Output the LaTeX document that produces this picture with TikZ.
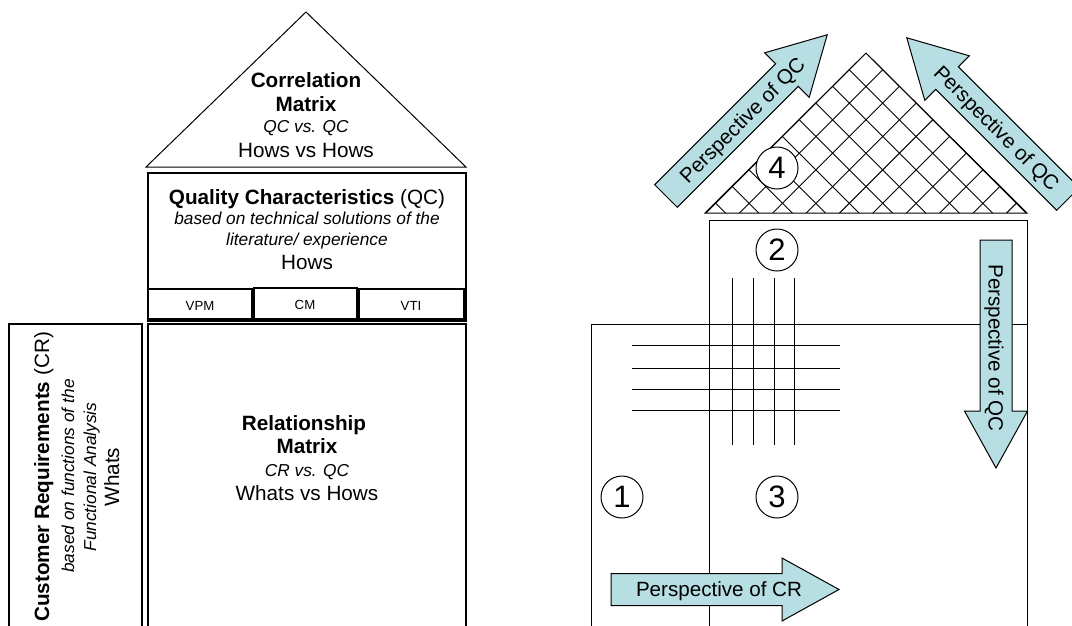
\documentclass[tikz,border=0pt]{standalone}
\usepackage{fontspec}
\setmainfont{Liberation Sans}
\definecolor{arrowfill}{RGB}{183,222,227}
\tikzset{
  box/.style={draw, line width=1.2pt},
  thinbox/.style={draw, line width=1pt},
  lbl/.style={anchor=base, inner sep=0pt},
  big/.style={font=\fontsize{20.7}{24}\selectfont},
  bigb/.style={font=\fontsize{20.7}{24}\selectfont\bfseries},
  ital/.style={font=\fontsize{17.3}{20}\selectfont\itshape},
  smalltxt/.style={font=\fontsize{13.2}{16}\selectfont},
  numc/.style={circle, draw, fill=white, minimum size=42pt, inner sep=0pt, line width=1pt, font=\fontsize{31}{32}\selectfont},
  parrow/.style={draw, fill=arrowfill, line width=1pt},
  ptext/.style={font=\fontsize{20.6}{24}\selectfont, text height=14.75pt, text depth=0pt, inner sep=0pt},
  hatch/.style={draw, line width=0.9pt},
  gridline/.style={draw, line width=1pt}
}
\newcommand\perspArrow[3]{%
  \begin{scope}[shift={(#1,#2)}, rotate=#3]
    \draw[parrow] (0,-16) -- (171,-16) -- (171,-31.5) -- (228,0) -- (171,31.5) -- (171,16) -- (0,16) -- cycle;
  \end{scope}}
\begin{document}
\begin{tikzpicture}[x=1pt, y=-1pt]
\useasboundingbox (0,0) rectangle (1072,625);
\clip (0,0) rectangle (1072,625);

% ---------------- left house ----------------
\draw[thinbox] (146,167) -- (306,12) -- (466,167) -- cycle;
\node[lbl, bigb] (corr1) at (306,87) {Correlation};
\node[lbl, bigb] (corr2) at (306,111) {Matrix};
\node[lbl, ital] (corr3) at (306,132) {QC vs. QC};
\node[lbl, big]  (corr4) at (306,157) {Hows vs Hows};

\draw[box] (148,173) rectangle (466,321);
\node[lbl, big] (qc1) at (307,204) {{\bfseries Quality Characteristics} (QC)};
\node[lbl, ital] (qc2) at (307,224) {based on technical solutions of the};
\node[lbl, ital] (qc3) at (307,245) {literature/ experience};
\node[lbl, big] (qc4) at (307,269) {Hows};

\draw[box] (148,289) rectangle (252,319);
\draw[box] (254,288) rectangle (357,319);
\draw[box] (359,289) rectangle (464,319);
\node[lbl, smalltxt] (vpm) at (200,310) {VPM};
\node[lbl, smalltxt] (cm) at (305,309) {CM};
\node[lbl, smalltxt] (vti) at (411,310) {VTI};

\draw[box] (9,324) rectangle (142,660);
\node[lbl, big, rotate=90] (cr1) at (49,477) {{\bfseries Customer Requirements} (CR)};
\node[lbl, ital, rotate=90] (cr2) at (74,476) {based on functions of the};
\node[lbl, ital, rotate=90] (cr3) at (96,477) {Functional Analysis};
\node[lbl, big, rotate=90] (cr4) at (119,477) {Whats};

\draw[box] (148,324) rectangle (466,660);
\node[lbl, bigb] (rm1) at (304,430) {Relationship};
\node[lbl, bigb] (rm2) at (307,453) {Matrix};
\node[lbl, ital] (rm3) at (307,476) {CR vs. QC};
\node[lbl, big]  (rm4) at (307,500) {Whats vs Hows};

% ---------------- right house ----------------
\begin{scope}
  \clip (705,213) -- (866,53) -- (1027,213) -- cycle;
  \foreach \k in {-11,...,11} {
    \draw[hatch] ({919+33.4*\k-300},300) -- ({919+33.4*\k},0);
    \draw[hatch] ({813+33.4*\k},0) -- ({813+33.4*\k+300},300);
  }
\end{scope}
\draw[thinbox] (705,213) -- (866,53) -- (1027,213) -- cycle;

\draw[thinbox] (709,220) rectangle (1027,660);
\draw[thinbox] (591,324) rectangle (1027,660);

\foreach \xx in {732,753,774,794} \draw[gridline] (\xx,278) -- (\xx,445);
\foreach \yy in {345,368,389,410} \draw[gridline] (632,\yy) -- (840,\yy);

\node[numc] (n4) at (777,168) {4};
\node[numc] (n2) at (777,250) {2};
\node[numc] (n1) at (622,497) {1};
\node[numc] (n3) at (777,497) {3};

\perspArrow{611}{589.5}{0}
\node[ptext] (pcr) at (719,589.5) {Perspective of CR};

\perspArrow{996}{240}{-90}
\node[ptext, rotate=-90] (pqc3) at (996,348) {Perspective of QC};

\perspArrow{666}{196}{45}
\node[ptext, rotate=45] (pqc1) at (742,120) {Perspective of QC};

\perspArrow{1068}{199}{135}
\node[ptext, rotate=-45] (pqc2) at (997,128) {Perspective of QC};

\end{tikzpicture}
\end{document}
